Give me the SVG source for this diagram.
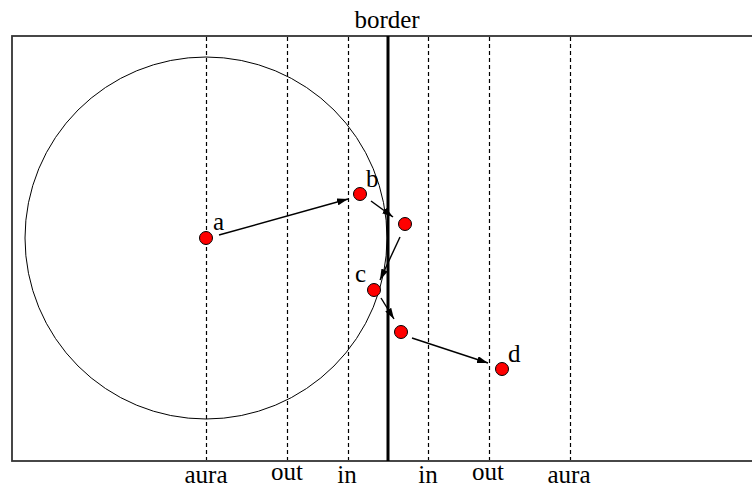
<svg xmlns="http://www.w3.org/2000/svg" width="752" height="488" viewBox="0 0 752 488">
<defs>
<style>
.lbl{font-family:"Liberation Serif","Times New Roman",serif;font-size:25px;fill:#000;}
.dash{stroke:#000;stroke-width:1.2;stroke-dasharray:4 3;fill:none;}
.dot{fill:#f00;stroke:#000;stroke-width:1;}
.arr{stroke:#000;stroke-width:1.4;fill:none;marker-end:url(#ah);}
</style>
<marker id="ah" viewBox="0 0 11 7" refX="11" refY="3.5" markerWidth="11" markerHeight="7" markerUnits="userSpaceOnUse" orient="auto">
<path d="M0,0 L11,3.5 L0,7 Z" fill="#000"/>
</marker>
</defs>
<rect width="752" height="488" fill="#fff"/>
<g id="frame">
<rect x="12" y="36" width="742" height="425" fill="none" stroke="#333" stroke-width="1.8"/>
</g>
<g id="zones">
<line class="dash" x1="206.5" y1="37" x2="206.5" y2="460"/>
<line class="dash" x1="287.5" y1="37" x2="287.5" y2="460"/>
<line class="dash" x1="348.5" y1="37" x2="348.5" y2="460"/>
<line class="dash" x1="428.5" y1="37" x2="428.5" y2="460"/>
<line class="dash" x1="489.5" y1="37" x2="489.5" y2="460"/>
<line class="dash" x1="570.5" y1="37" x2="570.5" y2="460"/>
<line x1="388" y1="36" x2="388" y2="461" stroke="#000" stroke-width="3"/>
</g>
<g id="aura-circle">
<circle cx="206" cy="238" r="181" fill="none" stroke="#000" stroke-width="1"/>
</g>
<g id="labels">
<text class="lbl" x="387" y="28" text-anchor="middle">border</text>
<text class="lbl" x="206" y="483" text-anchor="middle">aura</text>
<text class="lbl" x="287" y="480" text-anchor="middle">out</text>
<text class="lbl" x="347" y="483" text-anchor="middle">in</text>
<text class="lbl" x="428" y="483" text-anchor="middle">in</text>
<text class="lbl" x="488" y="480" text-anchor="middle">out</text>
<text class="lbl" x="569" y="483" text-anchor="middle">aura</text>
</g>
<g id="connectors">
<line class="arr" x1="219" y1="235" x2="348" y2="199"/>
<line class="arr" x1="371" y1="201" x2="393" y2="217"/>
<line class="arr" x1="400" y1="237" x2="380" y2="280"/>
<line class="arr" x1="381" y1="298" x2="394" y2="319"/>
<line class="arr" x1="412" y1="338" x2="488" y2="363"/>
</g>
<g id="node-a">
<circle class="dot" cx="206" cy="238" r="6.5"/>
<text class="lbl" x="213" y="230">a</text>
</g>
<g id="node-b">
<circle class="dot" cx="360" cy="194" r="6.5"/>
<text class="lbl" x="366" y="187">b</text>
</g>
<g id="node-p2">
<circle class="dot" cx="405" cy="224" r="6.5"/>
</g>
<g id="node-c">
<circle class="dot" cx="374" cy="290" r="6.5"/>
<text class="lbl" x="355" y="282">c</text>
</g>
<g id="node-p4">
<circle class="dot" cx="401" cy="332" r="6.5"/>
</g>
<g id="node-d">
<circle class="dot" cx="502" cy="369" r="6.5"/>
<text class="lbl" x="508" y="362">d</text>
</g>
</svg>
